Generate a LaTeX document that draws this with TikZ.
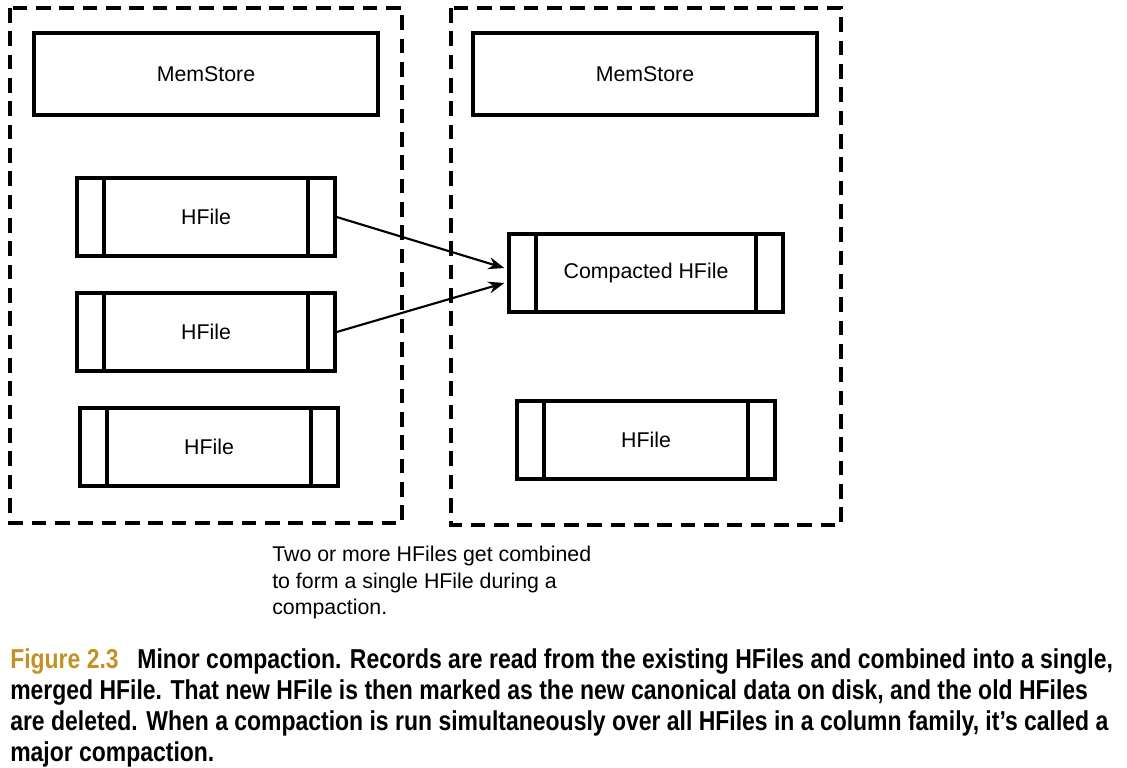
\documentclass[tikz,border=0pt]{standalone}
\usepackage{fontspec}
\setmainfont{Liberation Sans}
\newfontfamily\capfont[FakeStretch=0.84]{Liberation Sans}
\usetikzlibrary{arrows.meta,calc}
\definecolor{figgold}{RGB}{196,146,36}

\begin{document}
\begin{tikzpicture}[
    x=0.75pt, y=0.75pt,
    region/.style={draw, line width=2.5pt, dash pattern=on 11pt off 6.5pt},
    memstore/.style={rectangle, draw, line width=3pt, minimum width=258pt, minimum height=61pt, font=\fontsize{16pt}{19pt}\selectfont},
    hfile/.style={rectangle, draw, line width=3pt, minimum width=193pt, minimum height=58pt, font=\fontsize{16pt}{19pt}\selectfont,
        path picture={
            \draw[line width=3pt] ([xshift=20pt]path picture bounding box.north west) -- ([xshift=20pt]path picture bounding box.south west);
            \draw[line width=3pt] ([xshift=-20pt]path picture bounding box.north east) -- ([xshift=-20pt]path picture bounding box.south east);
        }},
    arrow/.style={-{Stealth[length=12pt, width=9pt]}, line width=1.6pt}
]
\useasboundingbox (0,0) rectangle (1127,-767);

% Regions (dashed)
\draw[region] (10,-8) rectangle (402,-523);
\draw[region] (451,-8) rectangle (841,-525);

% Left side: before compaction
\node[memstore] (memL) at (206,-74) {MemStore};
\node[hfile] (hf1) at (206,-217) {HFile};
\node[hfile] (hf2) at (206,-332) {HFile};
\node[hfile] (hf3) at (209,-447) {HFile};

% Right side: after compaction
\node[memstore] (memR) at (645,-74) {MemStore};
\node[hfile, minimum width=205pt] (comp) at (646,-273) {Compacted HFile};
\node[hfile] (hf4) at (646,-440) {HFile};

% Merge arrows
\draw[arrow] (hf1.east) -- ($(comp.west)+(-3,5)$);
\draw[arrow] (hf2.east) -- ($(comp.west)+(-3,-10)$);

% Note
\node[anchor=north west, align=left, inner sep=0pt, font=\fontsize{16pt}{19.9pt}\selectfont] (note) at (272,-546)
    {Two or more HFiles get combined\\to form a single HFile during a\\compaction.};

% Caption
\node[anchor=north west, align=left, inner sep=0pt, font=\capfont\bfseries\fontsize{20.5pt}{23.25pt}\selectfont] (caption) at (10,-648)
    {{\color{figgold}Figure 2.3}\hspace{14pt}Minor compaction. Records are read from the existing HFiles and combined into a single,\\
    merged HFile. That new HFile is then marked as the new canonical data on disk, and the old HFiles\\
    are deleted. When a compaction is run simultaneously over all HFiles in a column family, it’s called a\\
    major compaction.};

\end{tikzpicture}
\end{document}
